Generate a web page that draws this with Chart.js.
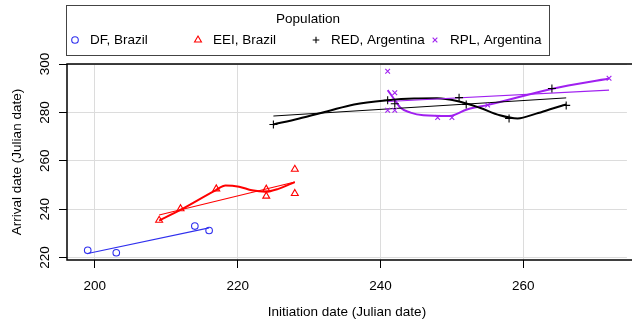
<!DOCTYPE html>
<html>
<head>
<meta charset="utf-8">
<script src="https://cdn.jsdelivr.net/npm/chart.js@4.4.1/dist/chart.umd.min.js"></script>
<style>
  html, body { margin: 0; padding: 0; background: #fff; }
  #wrap { position: relative; width: 632px; height: 322px; }
</style>
</head>
<body>
<div id="wrap"><canvas id="arrivalChart" width="632" height="322"></canvas></div>
<script>
// --- Data ---
const groupNames = ['DF, Brazil', 'EEI, Brazil', 'RED, Argentina', 'RPL, Argentina'];
const groupColors = ['#2f2fee', '#ff0000', '#000000', '#a020f0'];
const groupMarkers = ['circle', 'triangle', 'cross', 'crossRot'];

const xTicks = [200, 220, 240, 260];
const yTicks = [220, 240, 260, 280, 300];

// observed points (initiation date, arrival date)
const dfX = [199, 203, 214, 216];
const dfY = [223, 222, 233, 231.2];
const eeiX = [209, 212, 217, 224, 224, 228, 228];
const eeiY = [235.4, 240.2, 248.4, 248.3, 245.4, 256.5, 246.5];
const redX = [225, 241, 242, 251, 252, 258, 264, 266];
const redY = [275, 285, 283.6, 286.1, 283.3, 277.5, 289.9, 282.9];
const rplX = [241, 242, 241, 242, 248, 250, 255, 272];
const rplY = [297, 288.1, 280.9, 280.9, 277.9, 277.9, 283, 294.1];

// straight fit lines (end points)
const dfFitX = [199, 216];
const dfFitY = [221.7, 232.3];
const eeiFitX = [209, 228];
const eeiFitY = [237.6, 251.2];
const redFitX = [225, 266];
const redFitY = [278.5, 286];
const rplFitX = [241, 272];
const rplFitY = [284.5, 289.2];

// smooth curves
const eeiCurveX = [209, 212.1, 216.9, 218.3, 220.2, 222, 223.9, 225.7, 228];
const eeiCurveY = [235.3, 239.9, 247.8, 249.8, 249.3, 247.8, 247.2, 248.4, 251.2];
const redCurveX = [225, 228.5, 232.6, 236.3, 241, 244.7, 247.9, 250.7, 253.9, 256.7, 259.2, 261.8, 264.1, 266];
const redCurveY = [275, 277.4, 280.5, 283.3, 285, 285.7, 285.8, 284.7, 281.9, 278.8, 277.5, 279.5, 281.6, 283.3];
const rplCurveX = [241, 242.1, 242.8, 244.2, 246, 249.7, 252.1, 255.1, 264.1, 272];
const rplCurveY = [289.2, 284.7, 281.9, 279.9, 278.8, 278.5, 281.2, 283.1, 289.8, 294];

const toPoints = (xs, ys) => xs.map((x, i) => ({ x: x, y: ys[i] }));

const fontFamily = '"Liberation Sans", Arial, Helvetica, sans-serif';

function pointSet(i, xs, ys, radius) {
    return {
        data: toPoints(xs, ys),
        showLine: false,
        pointStyle: groupMarkers[i],
        pointRadius: radius,
        pointBorderColor: groupColors[i],
        pointBackgroundColor: 'rgba(0,0,0,0)',
        pointBorderWidth: 1.1
    };
}

function lineSet(i, xs, ys, width, smooth) {
    return {
        data: toPoints(xs, ys),
        showLine: true,
        borderColor: groupColors[i],
        borderWidth: width,
        pointRadius: 0,
        cubicInterpolationMode: smooth ? 'monotone' : 'default',
        tension: 0
    };
}

// R-style box, legend with title
const boxLegend = {
    id: 'boxLegend',
    afterDraw(chart) {
        const ctx = chart.ctx;
        const area = chart.chartArea;
        ctx.save();

        ctx.strokeStyle = '#000';
        ctx.lineWidth = 1.5;
        ctx.beginPath();
        ctx.moveTo(chart.width + 2, area.top);
        ctx.lineTo(area.left, area.top);
        ctx.lineTo(area.left, area.bottom);
        ctx.lineTo(chart.width + 2, area.bottom);
        ctx.stroke();

        ctx.fillStyle = '#fff';
        ctx.fillRect(66, 5, 483, 50);
        ctx.strokeStyle = '#444';
        ctx.lineWidth = 1;
        ctx.strokeRect(66.5, 5.5, 483, 50);

        ctx.fillStyle = '#000';
        ctx.font = '13.5px ' + fontFamily;
        ctx.textBaseline = 'middle';
        ctx.textAlign = 'center';
        ctx.fillText('Population', 308, 19);

        ctx.textAlign = 'left';
        const markerX = [75, 198, 316, 435];
        groupNames.forEach((name, i) => {
            ctx.strokeStyle = groupColors[i];
            ctx.fillStyle = 'rgba(0,0,0,0)';
            ctx.lineWidth = 1.1;
            Chart.helpers.drawPoint(ctx, {
                pointStyle: groupMarkers[i],
                rotation: 0,
                radius: i === 1 ? 4 : 3.3,
                borderWidth: 1.1
            }, markerX[i], 40);
            ctx.fillStyle = '#000';
            ctx.fillText(name, markerX[i] + 15, 40);
        });
        ctx.restore();
    }
};

const tickFont = { family: fontFamily, size: 13.5 };
const titleFont = { family: fontFamily, size: 13.5 };

new Chart(document.getElementById('arrivalChart'), {
    type: 'scatter',
    data: {
        datasets: [
            pointSet(0, dfX, dfY, 3.3),
            pointSet(1, eeiX, eeiY, 4),
            pointSet(2, redX, redY, 4),
            pointSet(3, rplX, rplY, 3.3),
            lineSet(0, dfFitX, dfFitY, 1.2, false),
            lineSet(1, eeiFitX, eeiFitY, 1.1, false),
            lineSet(2, redFitX, redFitY, 1, false),
            lineSet(3, rplFitX, rplFitY, 1.1, false),
            lineSet(1, eeiCurveX, eeiCurveY, 2, true),
            lineSet(2, redCurveX, redCurveY, 2, true),
            lineSet(3, rplCurveX, rplCurveY, 2, true)
        ]
    },
    options: {
        responsive: false,
        animation: false,
        layout: { padding: { top: 64, left: 0, right: 0, bottom: 0 } },
        plugins: {
            legend: { display: false },
            tooltip: { enabled: false }
        },
        scales: {
            x: {
                type: 'linear',
                min: 196.1,
                max: 274.5,
                afterBuildTicks: s => { s.ticks = xTicks.map(v => ({ value: v })); },
                afterFit: s => { s.height = 62; },
                ticks: { color: '#000', font: tickFont, padding: 10, maxRotation: 0 },
                grid: { color: '#dcdcdc', lineWidth: 1, tickColor: '#000', tickLength: 8 },
                border: { display: false },
                title: { display: true, text: 'Initiation date (Julian date)', color: '#000', font: titleFont, padding: { top: 0, bottom: 2 } }
            },
            y: {
                type: 'linear',
                min: 219,
                max: 300,
                afterBuildTicks: s => { s.ticks = yTicks.map(v => ({ value: v })); },
                afterFit: s => { s.width = 67; },
                ticks: { color: '#000', font: tickFont, padding: 2.5, minRotation: 90, maxRotation: 90, crossAlign: 'center' },
                grid: { color: '#dcdcdc', lineWidth: 1, tickColor: '#000', tickLength: 8 },
                border: { display: false },
                title: { display: true, text: 'Arrival date (Julian date)', color: '#000', font: titleFont, padding: { top: 9.5, bottom: 0 } }
            }
        }
    },
    plugins: [boxLegend]
});
</script>
</body>
</html>
